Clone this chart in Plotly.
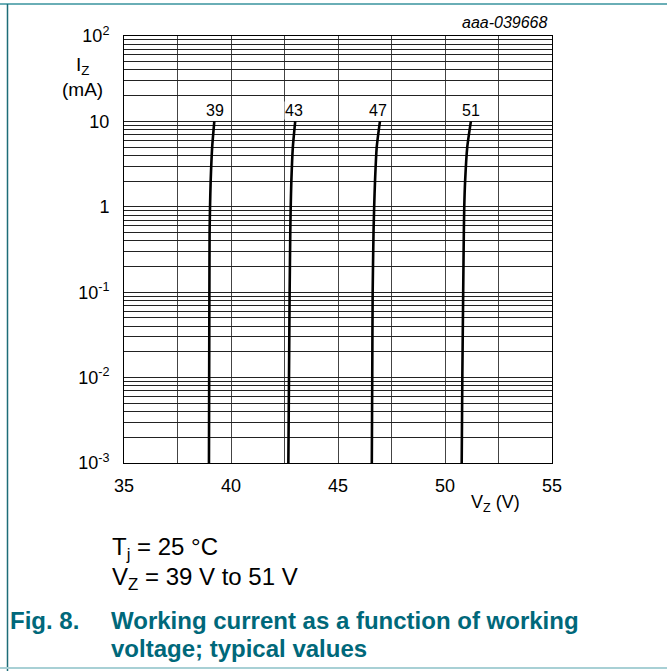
import math
import plotly.graph_objects as go

# ---- data ----
current_mA = [0.001, 0.01, 0.1, 0.5, 1, 2, 5, 10]
vz_39 = [38.97, 38.98, 38.99, 39.00, 39.02, 39.05, 39.12, 39.22]
vz_43 = [42.68, 42.71, 42.74, 42.77, 42.79, 42.82, 42.89, 43.00]
vz_47 = [46.58, 46.60, 46.62, 46.66, 46.69, 46.73, 46.81, 46.96]
vz_51 = [50.78, 50.81, 50.85, 50.88, 50.90, 50.94, 51.04, 51.21]
curve_names = ["39", "43", "47", "51"]
label_x = [39.25, 42.95, 46.85, 51.2]
label_y = 13.5

x_tickvals = [35, 37.5, 40, 42.5, 45, 47.5, 50, 52.5, 55]
x_ticktext = ["35", "", "40", "", "45", "", "50", "", "55"]
y_tickvals = []
y_ticktext = []
decade_labels = {-3: "10<sup>-3</sup>", -2: "10<sup>-2</sup>", -1: "10<sup>-1</sup>",
                 0: "1", 1: "10", 2: "10<sup>2</sup>"}
for e in range(-3, 3):
    for m in range(1, 10):
        if e == 2 and m > 1:
            break
        y_tickvals.append(m * 10 ** e)
        y_ticktext.append(decade_labels[e] if m == 1 else "")

TEAL = "#00687a"
FONT = "Liberation Sans, Arial, sans-serif"
NARROW = "Liberation Sans Narrow, Arial Narrow, Liberation Sans, sans-serif"

fig = go.Figure()
for name, vz in zip(curve_names, [vz_39, vz_43, vz_47, vz_51]):
    fig.add_trace(go.Scatter(x=vz, y=current_mA, mode="lines", name=name,
                             line=dict(color="black", width=2.6, shape="spline", smoothing=0.6),
                             showlegend=False, hoverinfo="skip"))

for name, lx in zip(curve_names, label_x):
    fig.add_annotation(x=lx, y=math.log10(label_y), yref="y", xref="x", text=name, showarrow=False,
                       xanchor="center", yanchor="middle",
                       font=dict(family=NARROW, size=16, color="black"),
                       bgcolor="white", borderpad=0)

fig.update_layout(
    width=667, height=671,
    margin=dict(l=124, r=115, t=36, b=208),
    paper_bgcolor="white", plot_bgcolor="white",
    font=dict(family=FONT, color="black"),
    xaxis=dict(range=[35, 55], tickvals=x_tickvals, ticktext=x_ticktext,
               showgrid=True, gridcolor="#444", gridwidth=1, zeroline=False,
               showline=True, linecolor="black", linewidth=1, mirror=True,
               ticks="", tickfont=dict(size=18, family=FONT), ticklabelstandoff=6),
    yaxis=dict(type="log", range=[-3, 2], tickvals=y_tickvals, ticktext=y_ticktext,
               showgrid=True, gridcolor="#222", gridwidth=1, zeroline=False,
               showline=True, linecolor="black", linewidth=1, mirror=True,
               ticks="", tickfont=dict(size=18, family=FONT), ticklabelstandoff=10),
)

def px(x):
    return (x - 124) / 428.0

def py(y):
    return (463 - y) / 427.0

def note(x, y, text, size, xanchor="center", color="black", align="center"):
    fig.add_annotation(xref="paper", yref="paper", x=px(x), y=py(y), text=text,
                       xanchor=xanchor, yanchor="middle", showarrow=False, align=align,
                       font=dict(size=size, family=FONT, color=color))

# axis titles and reference code
note(82, 77, "I<sub>Z</sub><br>(mA)", 19)
note(495, 503, "V<sub>Z</sub> (V)", 18)
note(550, 23, "<i>aaa-039668</i>", 16, xanchor="right")

# conditions
note(110, 548, "T<sub>j</sub> = 25 °C", 24, xanchor="left")
note(110, 578, "V<sub>Z</sub> = 39 V to 51 V", 24, xanchor="left")

# caption
note(8, 620, "<b>Fig. 8.</b>", 24, xanchor="left", color=TEAL)
note(109, 620, "<b>Working current as a function of working</b>", 24, xanchor="left", color=TEAL)
note(109, 648, "<b>voltage; typical values</b>", 24, xanchor="left", color=TEAL)

# frame lines
fig.add_shape(type="line", xref="paper", yref="paper", x0=px(0), x1=px(667), y0=py(4), y1=py(4),
              line=dict(color="#6aaeb6", width=2))
fig.add_shape(type="line", xref="paper", yref="paper", x0=px(7.5), x1=px(7.5), y0=py(4), y1=py(671),
              line=dict(color="#1d6d78", width=1.5))
fig.add_shape(type="line", xref="paper", yref="paper", x0=px(0), x1=px(667), y0=py(668), y1=py(668),
              line=dict(color="#a8d0d5", width=2))

fig.write_html("out.html", config={"displayModeBar": False},
               post_script="document.body.style.margin='0';")
